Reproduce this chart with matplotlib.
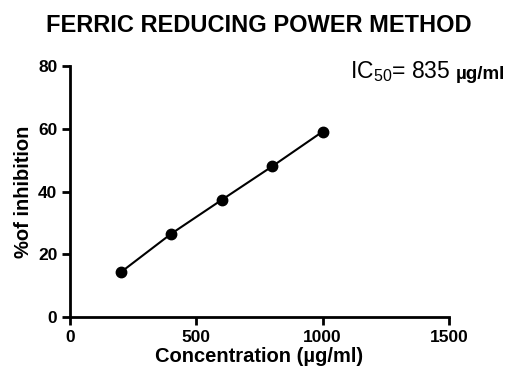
import matplotlib
matplotlib.use("Agg")
import matplotlib.pyplot as plt

conc = [200, 400, 600, 800, 1000]
inhibition = [14.2, 26.5, 37.3, 48.0, 59.1]
xticks = [0, 500, 1000, 1500]
yticks = [0, 20, 40, 60, 80]

plt.rcParams['font.family'] = ['Liberation Sans', 'DejaVu Sans']
plt.rcParams['mathtext.fontset'] = 'custom'
plt.rcParams['mathtext.rm'] = 'Liberation Sans'
plt.rcParams['mathtext.it'] = 'Liberation Sans:italic'
plt.rcParams['mathtext.bf'] = 'Liberation Sans:bold'

fig = plt.figure(figsize=(5.22, 3.76), dpi=100)
ax = fig.add_axes([70/522, 1-317/376, (449-70)/522, (317-66)/376])
ax.plot(conc, inhibition, color='black', lw=1.5, marker='o', ms=7.5, clip_on=False)
ax.set_xlim(0, 1500)
ax.set_ylim(0, 80)
ax.set_xticks(xticks)
ax.set_yticks(yticks)
for s in ['top', 'right']:
    ax.spines[s].set_visible(False)
for s in ['left', 'bottom']:
    ax.spines[s].set_linewidth(2)
ax.tick_params(direction='out', length=6, width=2, labelsize=12.5, pad=3)
for lab in ax.get_xticklabels() + ax.get_yticklabels():
    lab.set_fontweight('bold')
ax.set_xlabel('Concentration (µg/ml)', fontsize=14.5, fontweight='bold', labelpad=2)
ax.set_ylabel('%of inhibition', fontsize=14.5, fontweight='bold', labelpad=4)
fig.text(259/522, 1-25/376, 'FERRIC REDUCING POWER METHOD', ha='center', va='center',
         fontsize=17, fontweight='bold')
t1 = fig.text(350/522, 1-72/376, r'$\mathrm{IC_{50}}$= 835', ha='left', va='center',
              fontsize=16.5, fontweight='normal')
ax.annotate('µg/ml', xy=(1, 0.4), xycoords=t1, xytext=(4, 0), textcoords='offset points',
            ha='left', va='center', fontsize=13.5, fontweight='bold', annotation_clip=False)
fig.savefig('out.png', dpi=100)
